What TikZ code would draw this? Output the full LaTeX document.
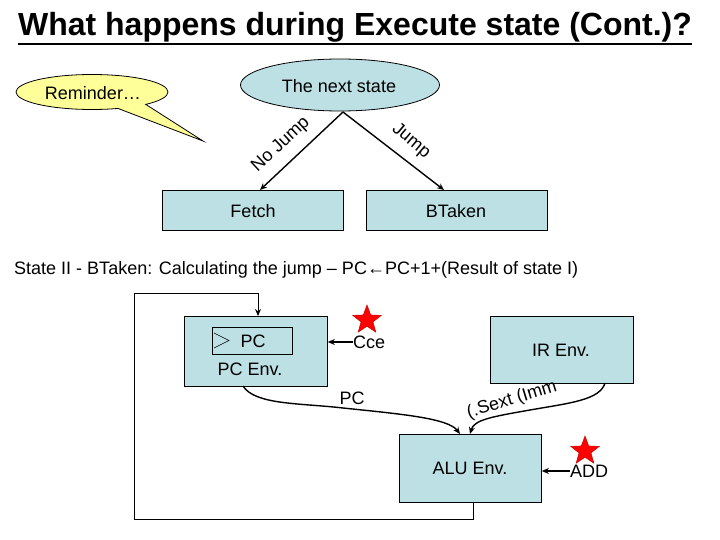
\documentclass[tikz,border=0pt]{standalone}
\usepackage{fontspec}
\setmainfont{Liberation Sans}
\usetikzlibrary{shapes.geometric,arrows.meta}
\definecolor{boxblue}{RGB}{188,224,228}
\definecolor{callout}{RGB}{255,255,153}
\tikzset{
  box/.style={draw=black, line width=0.8pt, fill=boxblue},
  txt/.style={font=\fontsize{18}{21}\selectfont, inner sep=0pt},
  conn/.style={line width=1.4pt, -{Stealth[length=7pt,width=6pt]}},
  thin/.style={line width=1pt},
  redstar/.style={star, star points=5, star point ratio=2.4, fill=red, draw=red!80!black, line width=0.5pt, minimum size=30pt, inner sep=0pt},
}
\begin{document}
\begin{tikzpicture}[x=1pt,y=-1pt]
\useasboundingbox (0,0) rectangle (720,540);
% title
\node[font=\fontsize{32}{36}\selectfont\bfseries, inner sep=0pt] (title) at (355,27) {What happens during Execute state (Cont.)?};
\draw[line width=2pt] (18,44) -- (692,44);
% reminder callout
\filldraw[fill=callout, draw=black, line width=0.8pt]
  (92,92) ++(45:76 and 17.5) arc[start angle=45, end angle=-290, x radius=76, y radius=17.5]
  -- (203,141) -- cycle;
\node[txt] (rem) at (93,93) {Reminder…};
% next state
\node[box, ellipse, minimum width=199pt, minimum height=52pt, inner sep=0pt] (next) at (340,85) {};
\node[txt] (nexttxt) at (339,86) {The next state};
% boxes
\node[box, minimum width=181pt, minimum height=40pt, anchor=north west] (fetch) at (162,190) {};
\node[txt] (fetchtxt) at (253,211) {Fetch};
\node[box, minimum width=181pt, minimum height=40pt, anchor=north west] (btaken) at (366,190) {};
\node[txt] (btakentxt) at (456,211) {BTaken};
\coordinate (ns) at (343,112);
\coordinate (fin) at (260,190);
\coordinate (bin) at (444,190);
\draw[conn] (ns) -- (fin);
\draw[conn] (ns) -- (bin);
\node[txt, rotate=43] (nojump) at (281,145) {No Jump};
\node[txt, rotate=-40] (jump) at (411,141) {Jump};
% state line
\node[txt, anchor=west] (state) at (14,270) {State II - BTaken: Calculating the jump – PC←PC+1+(Result of state I)};
% PC env
\node[box, minimum width=143pt, minimum height=70pt, anchor=north west] (pcenv) at (184,316) {};
\node[draw=black, line width=0.8pt, minimum width=80pt, minimum height=27pt, anchor=north west, inner sep=0pt] (pcreg) at (212,327) {};
\draw[line width=0.6pt] (214,333) -- (229,340.5) -- (214,348);
\node[txt] (pctxt) at (253,341) {PC};
\node[txt] (pcenvtxt) at (250,369) {PC Env.};
% IR env
\node[box, minimum width=143pt, minimum height=67pt, anchor=north west] (irenv) at (490,316) {};
\node[txt] (irtxt) at (561,350) {IR Env.};
% ALU env
\node[box, minimum width=142pt, minimum height=68pt, anchor=north west] (alu) at (399,434) {};
\node[txt] (alutxt) at (470,468) {ALU Env.};
% Cce
\node[txt, anchor=west] (cce) at (353,342) {Cce};
\node[redstar] (star1) at (367,320) {};
\draw[conn] (cce.west) -- (pcenv.east |- cce.west);
% ADD
\node[txt, anchor=west] (add) at (570,471) {ADD};
\node[redstar] (star2) at (585,451) {};
\draw[conn] (add.west) -- (alu.east |- add.west);
% feedback loop
\coordinate (fb1) at (473,519);
\coordinate (fb2) at (134,519);
\coordinate (fb3) at (134,293);
\coordinate (fb4) at (258,293);
\draw[thin] (alu.south -| fb1) -- (fb1) -- (fb2) -- (fb3) -- (fb4);
\draw[line width=1pt, -{Stealth[length=7pt,width=6pt]}] (fb4) -- (pcenv.north -| fb4);
% curves to ALU
\coordinate (pcout) at (243,386);
\coordinate (aluin1) at (460,434);
\coordinate (irout) at (605,383);
\coordinate (aluin2) at (470,434);
\draw[conn] (pcout) .. controls (255,405) and (300,403) .. (343,408)
  .. controls (400,414) and (448,418) .. (aluin1);
\draw[conn] (irout) .. controls (600,400) and (570,403) .. (530,410)
  .. controls (490,417) and (474,420) .. (aluin2);
\node[txt] (pclabel) at (352,398) {PC};
\node[txt, rotate=17] (sext) at (512,400) {(.Sext (Imm};
\end{tikzpicture}
\end{document}
